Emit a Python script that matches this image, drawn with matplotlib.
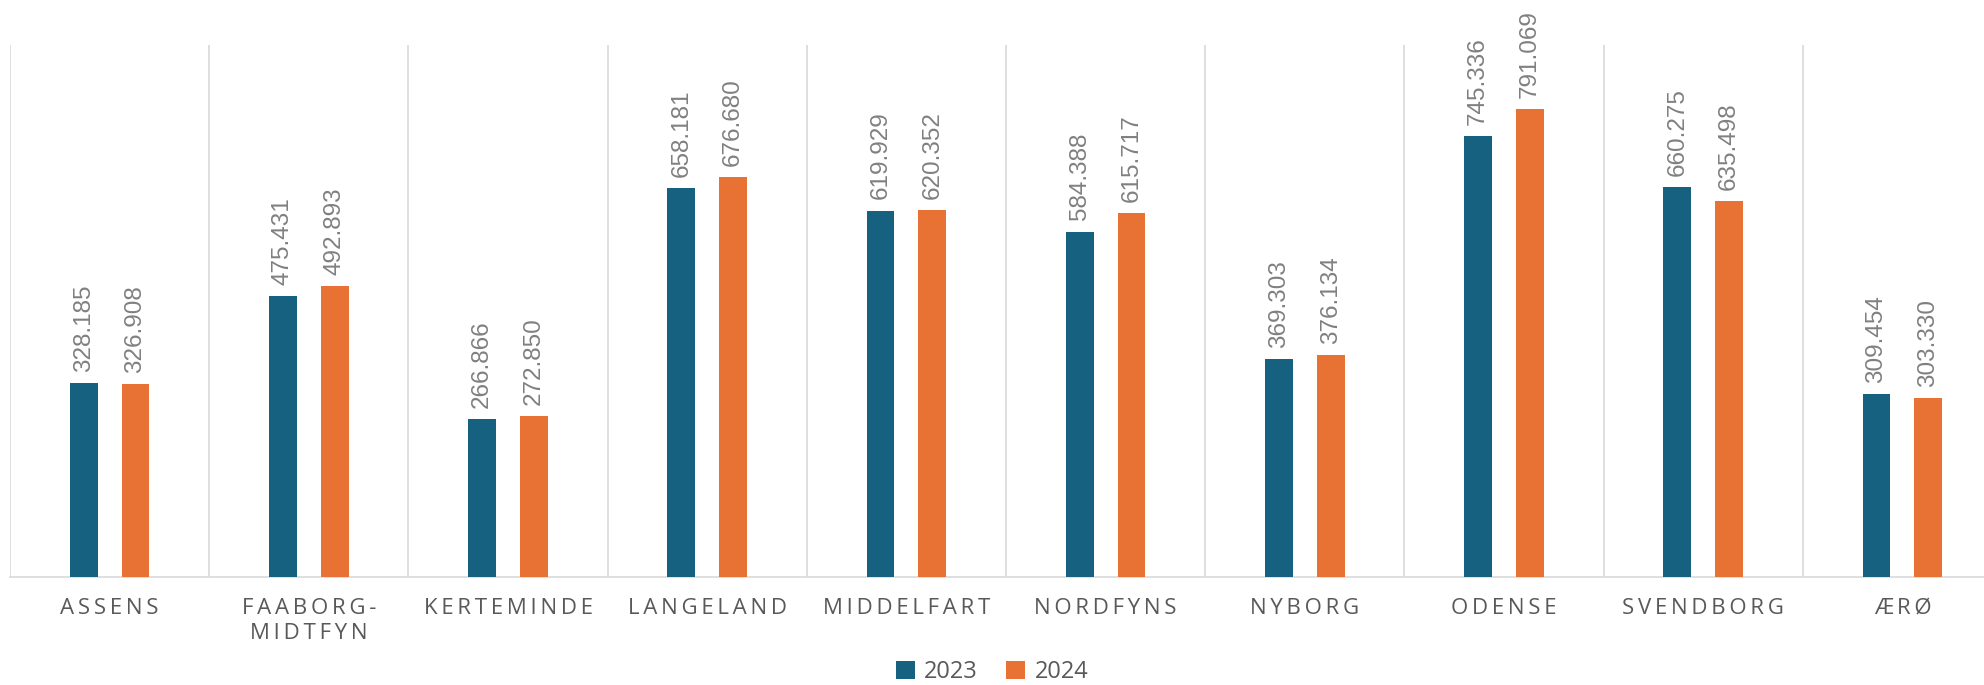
import matplotlib
matplotlib.use("Agg")
import matplotlib.pyplot as plt
import numpy as np
from matplotlib.ticker import FixedLocator

categories = ["ASSENS", "FAABORG-\nMIDTFYN", "KERTEMINDE", "LANGELAND", "MIDDELFART",
              "NORDFYNS", "NYBORG", "ODENSE", "SVENDBORG", "ÆRØ"]
values_2023 = [328.185, 475.431, 266.866, 658.181, 619.929, 584.388, 369.303, 745.336, 660.275, 309.454]
values_2024 = [326.908, 492.893, 272.850, 676.680, 620.352, 615.717, 376.134, 791.069, 635.498, 303.330]
series_names = ["2023", "2024"]
colors = ["#166080", "#E87234"]

W, H = 1984, 685
fig = plt.figure(figsize=(W / 100, H / 100), dpi=100)
left, right, top, bottom = 10, 2002, 45, 577
ax = fig.add_axes([left / W, 1 - bottom / H, (right - left) / W, (bottom - top) / H])

x = np.arange(len(categories))
bw = 0.14
off = 0.13
b1 = ax.bar(x - off, values_2023, bw, color=colors[0], label=series_names[0], zorder=3)
b2 = ax.bar(x + off, values_2024, bw, color=colors[1], label=series_names[1], zorder=3)

label_font = ["Liberation Sans", "DejaVu Sans"]
for bars, vals in ((b1, values_2023), (b2, values_2024)):
    for rect, v in zip(bars, vals):
        ax.annotate(f"{v:.3f}", (rect.get_x() + rect.get_width() / 2, v),
                    xytext=(0, 8), textcoords="offset points", rotation=90,
                    ha="center", va="bottom", fontsize=17.5, color="#808080",
                    family=label_font, annotation_clip=False)

ax.set_xlim(-0.5, len(categories) - 0.5)
ax.set_ylim(0, 900)
ax.set_yticks([])
ax.xaxis.set_minor_locator(FixedLocator(np.arange(len(categories)) - 0.5))
ax.grid(True, which="minor", axis="x", color="#d9d9d9", linewidth=1.2, zorder=0)
ax.tick_params(axis="x", which="both", length=0, pad=15)

def spaced(s):
    return "\n".join("\u2009".join(line) for line in s.split("\n"))

ax.set_xticks(x)
ax.set_xticklabels([spaced(c) for c in categories], fontsize=16, color="#595959",
                   family=["Open Sans", "DejaVu Sans"], linespacing=1.25)
for s in ["top", "right", "left"]:
    ax.spines[s].set_visible(False)
ax.spines["bottom"].set_color("#d9d9d9")
ax.spines["bottom"].set_linewidth(1.2)

fig.legend(handles=[b1, b2], labels=series_names, loc="center",
           bbox_to_anchor=(0.5, 1 - 672 / H), ncol=2, frameon=False,
           handlelength=0.8, handleheight=0.8, handletextpad=0.4,
           columnspacing=1.2, labelcolor="#595959",
           prop={"family": ["Open Sans", "DejaVu Sans"], "size": 17})

fig.savefig("out.png", dpi=100)
